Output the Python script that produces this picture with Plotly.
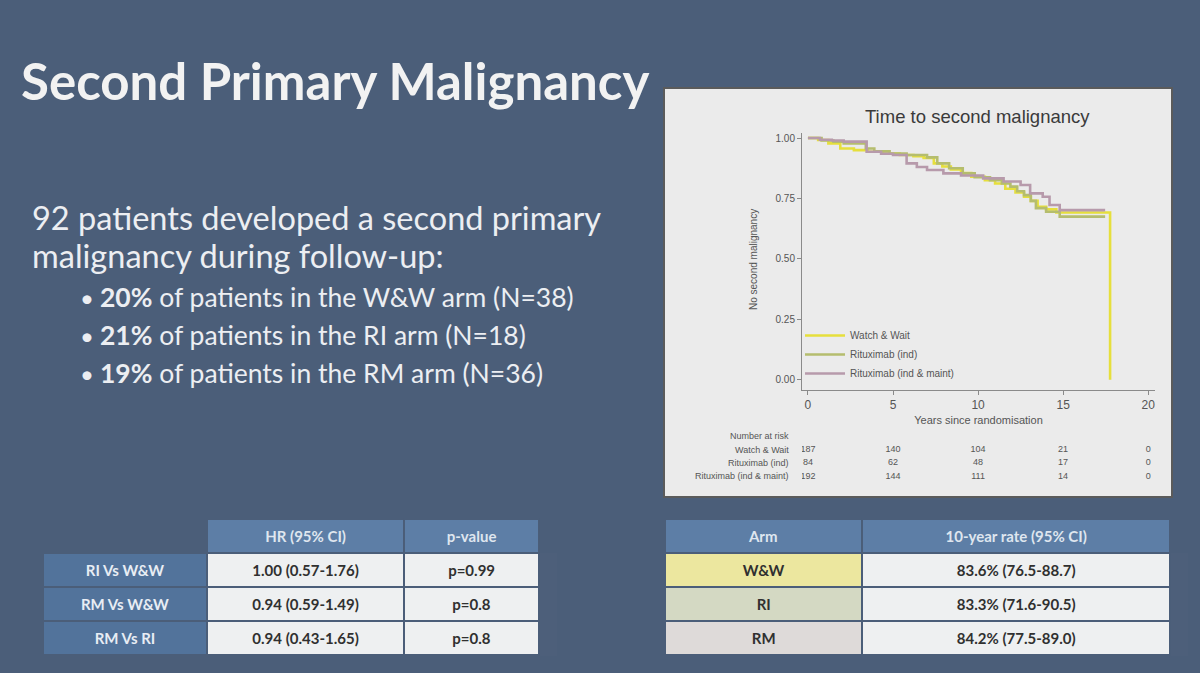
import plotly.graph_objects as go

# ---------------- data ----------------
ww_t = [0, 0.6, 1.2, 1.9, 2.7, 3.5, 4.4, 5.4, 6.2, 6.8, 7.4, 7.9, 8.4, 9.0, 9.6, 10.4, 11.0, 11.6, 12.2, 12.7, 13.1, 13.5, 14.0, 14.6, 17.76, 17.76]
ww_s = [1.0, 0.992, 0.978, 0.957, 0.95, 0.943, 0.936, 0.93, 0.925, 0.918, 0.895, 0.882, 0.87, 0.855, 0.84, 0.826, 0.812, 0.79, 0.775, 0.757, 0.74, 0.716, 0.705, 0.692, 0.692, 0.0]

ri_t = [0, 0.8, 1.5, 2.1, 3.4, 3.9, 4.8, 5.8, 7.0, 7.6, 8.3, 9.1, 9.8, 10.7, 11.4, 11.9, 12.3, 12.7, 13.1, 13.4, 14.0, 14.8, 17.47]
ri_s = [1.0, 0.99, 0.985, 0.978, 0.957, 0.945, 0.936, 0.93, 0.92, 0.895, 0.875, 0.854, 0.838, 0.826, 0.812, 0.799, 0.78, 0.764, 0.74, 0.71, 0.695, 0.675, 0.675]

rm_t = [0, 0.7, 1.4, 2.1, 3.45, 4.3, 5.0, 5.8, 6.4, 7.0, 7.96, 9.0, 10.3, 11.5, 12.5, 13.06, 13.8, 14.2, 14.8, 17.47]
rm_s = [1.0, 0.993, 0.99, 0.985, 0.943, 0.935, 0.93, 0.895, 0.88, 0.868, 0.854, 0.845, 0.833, 0.82, 0.806, 0.771, 0.757, 0.723, 0.702, 0.702]

series_names = ["Watch & Wait", "Rituximab (ind)", "Rituximab (ind & maint)"]
series_colors = ["#e6df3c", "#b5bd6e", "#b79aab"]

risk_times = [0, 5, 10, 15, 20]
risk_ww = [187, 140, 104, 21, 0]
risk_ri = [84, 62, 48, 17, 0]
risk_rm = [192, 144, 111, 14, 0]

y_ticks = [0, 0.25, 0.5, 0.75, 1.0]
y_ticklabels = ["0.00", "0.25", "0.50", "0.75", "1.00"]
x_ticks = [0, 5, 10, 15, 20]

hr_rows = ["RI Vs W&W", "RM Vs W&W", "RM Vs RI"]
hr_values = ["1.00 (0.57-1.76)", "0.94 (0.59-1.49)", "0.94 (0.43-1.65)"]
p_values = ["p=0.99", "p=0.8", "p=0.8"]

arm_rows = ["W&W", "RI", "RM"]
arm_rates = ["83.6% (76.5-88.7)", "83.3% (71.6-90.5)", "84.2% (77.5-89.0)"]

bullets = [("20%", " of patients in the W&W arm (N=38)"),
           ("21%", " of patients in the RI arm (N=18)"),
           ("19%", " of patients in the RM arm (N=36)")]

# ---------------- figure ----------------
W, H = 1200, 673
BG = "#4b5e79"
PANEL = "#ebebeb"
SLIDE_FONT = "Lato"
TABLE_FONT = "Lato"
CHART_FONT = "Liberation Sans"


def px_x(p):
    return p / W


def px_y(p):
    return (H - p) / H


fig = go.Figure()

for t, s, name, col in zip([ww_t, ri_t, rm_t], [ww_s, ri_s, rm_s], series_names, series_colors):
    fig.add_trace(go.Scatter(x=t, y=s, mode="lines", line=dict(shape="hv", color=col, width=2.6),
                             name=name, xaxis="x", yaxis="y"))

# risk table numbers
for i, vals in enumerate([risk_ww, risk_ri, risk_rm]):
    fig.add_trace(go.Scatter(x=risk_times, y=[i] * len(risk_times), mode="text",
                             text=[str(v) for v in vals], textposition="middle center",
                             textfont=dict(family=CHART_FONT, size=9, color="#555"),
                             showlegend=False, hoverinfo="skip", xaxis="x", yaxis="y2"))

# tables
hdr_blue = "#5d7ea6"
row_blue = "#52739b"
light = "#eef0f1"
fig.add_trace(go.Table(
    domain=dict(x=[px_x(43), px_x(539)], y=[px_y(656), px_y(519)]),
    columnwidth=[163, 196, 134],
    header=dict(values=["", "<b>HR (95% CI)</b>", "<b>p-value</b>"],
                fill_color=[BG, hdr_blue, hdr_blue], line=dict(color=BG, width=2),
                font=dict(family=TABLE_FONT, size=15, color="#dfe6ef"), align="center", height=33),
    cells=dict(values=[["<b>%s</b>" % r for r in hr_rows], ["<b>%s</b>" % v for v in hr_values],
                       ["<b>%s</b>" % v for v in p_values]],
               fill_color=[row_blue, light, light], line=dict(color=BG, width=2),
               font=dict(family=TABLE_FONT, size=15, color=["#e8edf4", "#303030", "#303030"]),
               align="center", height=33)))

fig.add_trace(go.Table(
    domain=dict(x=[px_x(665), px_x(1171)], y=[px_y(656), px_y(519)]),
    columnwidth=[197, 307],
    header=dict(values=["<b>Arm</b>", "<b>10-year rate (95% CI)</b>"],
                fill_color=hdr_blue, line=dict(color=BG, width=2),
                font=dict(family=TABLE_FONT, size=15, color="#dfe6ef"), align="center", height=33),
    cells=dict(values=[["<b>%s</b>" % r for r in arm_rows], ["<b>%s</b>" % v for v in arm_rates]],
               fill_color=[["#ece79f", "#d4d9c3", "#dedad9"], [light, light, light]],
               line=dict(color=BG, width=2),
               font=dict(family=TABLE_FONT, size=15, color="#303030"),
               align="center", height=33)))

annotations = []
# slide title
annotations.append(dict(x=px_x(19), y=px_y(80), xref="paper", yref="paper", xanchor="left", yanchor="middle",
                        text="<b>Second Primary Malignancy</b>", showarrow=False,
                        font=dict(family=SLIDE_FONT, size=51, color="#f2f2f2")))
# body text
annotations.append(dict(x=px_x(30), y=px_y(218), xref="paper", yref="paper", xanchor="left", yanchor="middle",
                        text="92 patients developed a second primary", showarrow=False,
                        font=dict(family=SLIDE_FONT, size=32.5, color="#eceef2")))
annotations.append(dict(x=px_x(30), y=px_y(255), xref="paper", yref="paper", xanchor="left", yanchor="middle",
                        text="malignancy during follow-up:", showarrow=False,
                        font=dict(family=SLIDE_FONT, size=32.5, color="#eceef2")))
for i, (b, rest) in enumerate(bullets):
    yy = [297, 335, 373][i]
    annotations.append(dict(x=px_x(78), y=px_y(yy), xref="paper", yref="paper", xanchor="left", yanchor="middle",
                            text="•", showarrow=False, font=dict(family=SLIDE_FONT, size=24, color="#eceef2")))
    annotations.append(dict(x=px_x(98), y=px_y(yy), xref="paper", yref="paper", xanchor="left", yanchor="middle",
                            text="<b>%s</b>%s" % (b, rest), showarrow=False,
                            font=dict(family=SLIDE_FONT, size=26.5, color="#eceef2")))

# chart title & y label
annotations.append(dict(x=px_x(978), y=px_y(116), xref="paper", yref="paper", xanchor="center", yanchor="middle",
                        text="Time to second malignancy", showarrow=False,
                        font=dict(family=CHART_FONT, size=18.5, color="#3a3a3a")))
annotations.append(dict(x=px_x(753), y=px_y(259), xref="paper", yref="paper", xanchor="center", yanchor="middle",
                        text="No second malignancy", textangle=-90, showarrow=False,
                        font=dict(family=CHART_FONT, size=10, color="#555")))
# risk table labels
annotations.append(dict(x=px_x(791), y=px_y(436), xref="paper", yref="paper", xanchor="right", yanchor="middle",
                        text="Number at risk", showarrow=False,
                        font=dict(family=CHART_FONT, size=9, color="#555")))
for i, name in enumerate(series_names):
    annotations.append(dict(x=px_x(791), y=i, xref="paper", yref="y2", xanchor="right", yanchor="middle",
                            text=name, showarrow=False,
                            font=dict(family=CHART_FONT, size=9, color="#555")))

shapes = [dict(type="rect", xref="paper", yref="paper", x0=px_x(664), x1=px_x(1172), y0=px_y(497), y1=px_y(88),
               fillcolor=PANEL, line=dict(color="#5b5b5b", width=2), layer="below")]

fig.update_layout(
    width=W, height=H, margin=dict(l=0, r=0, t=0, b=0),
    paper_bgcolor=BG, plot_bgcolor=PANEL,
    showlegend=True,
    legend=dict(x=px_x(800), y=px_y(321), xanchor="left", yanchor="top", bgcolor="rgba(0,0,0,0)",
                font=dict(family=CHART_FONT, size=10, color="#555"), tracegroupgap=0, itemwidth=40),
    xaxis=dict(domain=[px_x(802), px_x(1155)], range=[-0.35, 20.4], tickvals=x_ticks,
               showline=True, linecolor="#8a8a8a", linewidth=1, ticks="outside", ticklen=4,
               tickcolor="#8a8a8a", showgrid=False, zeroline=False,
               tickfont=dict(family=CHART_FONT, size=12, color="#555"),
               title=dict(text="Years since randomisation", standoff=5,
                          font=dict(family=CHART_FONT, size=11, color="#555")),
               anchor="y"),
    yaxis=dict(domain=[px_y(389.7), px_y(133.2)], range=[-0.041, 1.02], tickvals=y_ticks,
               ticktext=y_ticklabels, showline=True, linecolor="#8a8a8a", linewidth=1,
               ticks="outside", ticklen=4, tickcolor="#8a8a8a", showgrid=False, zeroline=False,
               tickfont=dict(family=CHART_FONT, size=10, color="#555"), anchor="x"),
    yaxis2=dict(domain=[px_y(483), px_y(443)], range=[2.5, -0.5], visible=False, anchor="x"),
    annotations=annotations, shapes=shapes,
)

fig.write_html("out.html")
